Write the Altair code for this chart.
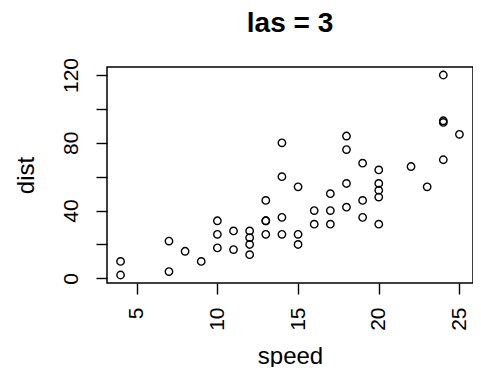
import altair as alt
import pandas as pd

speed = [4, 4, 7, 7, 8, 9, 10, 10, 10, 11, 11, 12, 12, 12, 12, 13, 13, 13, 13, 14,
         14, 14, 14, 15, 15, 15, 16, 16, 17, 17, 17, 18, 18, 18, 18, 19, 19, 19, 20, 20,
         20, 20, 20, 22, 23, 24, 24, 24, 24, 25]
dist = [2, 10, 4, 22, 16, 10, 18, 26, 34, 17, 28, 14, 20, 24, 28, 26, 34, 34, 46, 26,
        36, 60, 80, 20, 26, 54, 32, 40, 32, 40, 50, 42, 56, 76, 84, 36, 46, 68, 32, 48,
        52, 56, 64, 66, 54, 70, 92, 93, 120, 85]
x_ticks = [5, 10, 15, 20, 25]
y_ticks = [0, 20, 40, 60, 80, 100, 120]

df = pd.DataFrame({"speed": speed, "dist": dist})
FONT = "Liberation Sans"
W, H = 366, 216

chart = alt.Chart(df).mark_point(
    shape="circle", filled=False, color="black", size=55, strokeWidth=1.4, opacity=1
).encode(
    x=alt.X("speed:Q",
            scale=alt.Scale(domain=[3.16, 25.84], nice=False, zero=False),
            axis=alt.Axis(values=x_ticks, title="speed", grid=False, domain=False,
                          tickSize=11, tickWidth=1.4, tickColor="black",
                          labelAngle=270, labelAlign="right", labelBaseline="middle",
                          labelPadding=13, labelFlush=False, labelOverlap=False,
                          labelFont=FONT, labelFontSize=21, labelColor="black",
                          titleFont=FONT, titleFontSize=24, titleFontWeight="normal",
                          titleColor="black", titleBaseline="alphabetic",
                          titleX=W / 2, titleY=80, titleAlign="center")),
    y=alt.Y("dist:Q",
            scale=alt.Scale(domain=[-2.72, 124.72], nice=False, zero=False),
            axis=alt.Axis(values=y_ticks, title="dist", grid=False, domain=False,
                          tickSize=11, tickWidth=1.4, tickColor="black",
                          labelExpr="datum.value % 40 == 0 ? datum.label : ''",
                          labelAngle=270, labelAlign="center", labelBaseline="alphabetic",
                          labelPadding=19, labelFlush=False, labelOverlap=False,
                          labelFont=FONT, labelFontSize=21, labelColor="black",
                          titleFont=FONT, titleFontSize=24, titleFontWeight="normal",
                          titleColor="black", titleAngle=270, titleBaseline="alphabetic",
                          titleAlign="center", titleX=-74, titleY=H / 2)),
).properties(
    width=W, height=H,
    title=alt.TitleParams("las = 3", font=FONT, fontSize=28, fontWeight="bold",
                          color="black", anchor="middle", offset=19),
    autosize=alt.AutoSizeParams(type="none"),
    padding={"left": 99, "top": 59, "right": 0, "bottom": 84},
    background="white",
).configure_view(
    stroke="black", strokeWidth=1.5
)

chart.save("out.html", embed_options={"renderer": "svg", "actions": False})
